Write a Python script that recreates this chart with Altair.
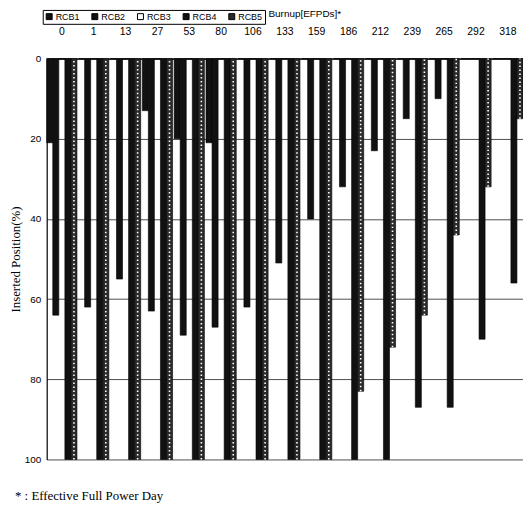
import altair as alt
import pandas as pd

categories = ["0", "1", "13", "27", "53", "80", "106", "133", "159", "186", "212", "239", "265", "292", "318"]
series = ["RCB1", "RCB2", "RCB3", "RCB4", "RCB5"]
rcb1 = [21, 0, 0, 13, 20, 21, 0, 0, 0, 0, 0, 0, 0, 0, 0]
rcb2 = [64, 62, 55, 63, 69, 67, 62, 51, 40, 32, 23, 15, 10, 0, 0]
rcb3 = [0, 0, 0, 0, 0, 0, 0, 0, 0, 0, 0, 0, 0, 0, 0]
rcb4 = [100, 100, 100, 100, 100, 100, 100, 100, 100, 100, 100, 87, 87, 70, 56]
rcb5 = [100, 100, 100, 100, 100, 100, 100, 100, 100, 83, 72, 64, 44, 32, 15]

rows = []
for s, vals in zip(series, [rcb1, rcb2, rcb3, rcb4, rcb5]):
    for c, v in zip(categories, vals):
        rows.append({"burnup": c, "rcb": s, "pos": v})
df = pd.DataFrame(rows)

sans = "Liberation Sans, Arial, sans-serif"
serif = "Liberation Serif, Times New Roman, serif"

x_enc = alt.X("burnup:N", sort=categories,
              scale=alt.Scale(paddingInner=0.05, paddingOuter=0.0),
              axis=alt.Axis(orient="top", title="Burnup[EFPDs]*", labelAngle=0,
                            ticks=False, labelPadding=22, labelFontSize=10.5,
                            labelFont=sans, domainColor="black", domainWidth=1.2,
                            titleFont=sans, titleFontSize=10, titleFontWeight="normal",
                            titleAnchor="start", titleAlign="left", titleX=223, titleY=-40))
xo_enc = alt.XOffset("rcb:N", sort=series, scale=alt.Scale(domain=series, paddingInner=0, paddingOuter=0))
y_enc = alt.Y("pos:Q",
              scale=alt.Scale(domain=[0, 100], reverse=True, nice=False),
              axis=alt.Axis(values=[0, 20, 40, 60, 80, 100], title="Inserted Position(%)",
                            titleFont=serif, titleFontSize=13, titleFontWeight="normal",
                            titlePadding=2, labelFont=sans, labelFontSize=10,
                            ticks=False, labelPadding=6, domainColor="black", domainWidth=1.2,
                            gridColor="#222", gridWidth=0.8, gridOpacity=1))

bars = alt.Chart(df).mark_bar(stroke="black", strokeWidth=0.6).encode(
    x=x_enc,
    xOffset=xo_enc,
    y=y_enc,
    y2=alt.datum(0),
    color=alt.Color("rcb:N", sort=series,
                    scale=alt.Scale(domain=series, range=["#111111", "#111111", "#ffffff", "#111111", "#2a2a2a"]),
                    legend=alt.Legend(orient="none", legendX=-4, legendY=-49, direction="horizontal",
                                      title=None, symbolType="square", symbolSize=36,
                                      symbolStrokeColor="black", symbolStrokeWidth=1,
                                      labelFont=sans, labelFontSize=9, labelOffset=2,
                                      columnPadding=9, padding=2, strokeColor="black",
                                      cornerRadius=0)),
)

dots = alt.Chart(df[df["rcb"] == "RCB5"]).mark_rule(color="white", strokeWidth=1.6, strokeDash=[1.5, 2.5]).encode(
    x=alt.X("burnup:N", sort=categories),
    xOffset=alt.XOffset("rcb:N", sort=series),
    y=alt.Y("pos:Q"),
    y2=alt.datum(0),
)

chart = alt.layer(bars, dots).properties(
    width=480, height=404,
    padding={"left": 39, "top": 49, "right": 0, "bottom": 50},
    autosize=alt.AutoSizeParams(type="none"),
    title=alt.TitleParams(text="* : Effective Full Power Day", orient="bottom", anchor="start",
                          frame="group", dx=-32, offset=26, font=serif, fontSize=13,
                          fontWeight="normal", color="black"),
).configure_view(stroke=None).configure_axis(labelColor="black", titleColor="black")

chart.save("out.html", embed_options={"renderer": "svg", "actions": False})
